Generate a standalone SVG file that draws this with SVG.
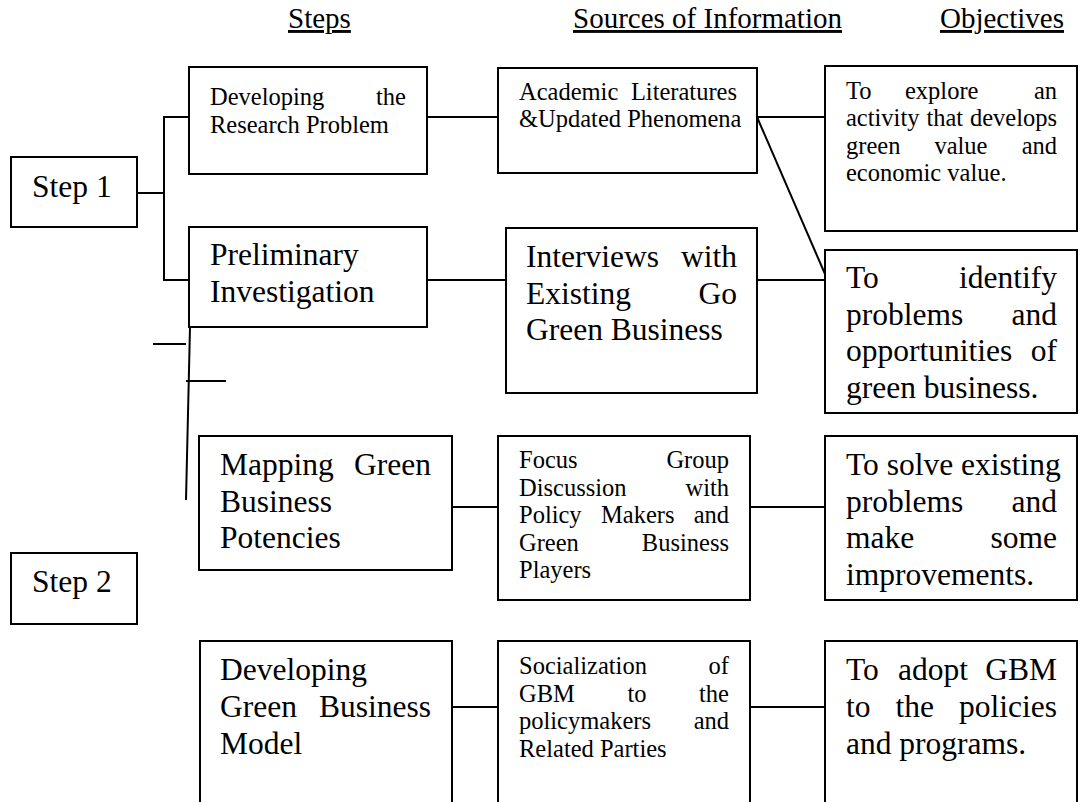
<svg xmlns="http://www.w3.org/2000/svg" width="1086" height="802" viewBox="0 0 1086 802">
<style>
  text { font-family: "Liberation Serif", "Times New Roman", serif; fill: #000; }
  .h { font-size: 29px; text-decoration: underline; }
  .b { font-size: 31.5px; }
  .s { font-size: 24.5px; }
  .e { text-anchor: end; }
  rect.box { fill: #fff; stroke: #000; stroke-width: 2; }
  #connectors line { stroke: #000; stroke-width: 2; }
</style>
<rect width="1086" height="802" fill="#fff"/>

<g id="headers">
  <text class="h" x="288" y="28">Steps</text>
  <text class="h" x="573" y="28">Sources of Information</text>
  <text class="h" x="940" y="28">Objectives</text>
</g>

<g id="connectors">
  <line x1="137" y1="193" x2="164" y2="193"/>
  <line x1="164" y1="116" x2="164" y2="281"/>
  <line x1="164" y1="117" x2="189" y2="117"/>
  <line x1="164" y1="280" x2="189" y2="280"/>
  <line x1="427" y1="117" x2="498" y2="117"/>
  <line x1="757" y1="117" x2="829" y2="117"/>
  <line x1="757" y1="117" x2="828" y2="281" stroke-width="1.6"/>
  <line x1="427" y1="280" x2="506" y2="280"/>
  <line x1="757" y1="280" x2="829" y2="280"/>
  <line x1="190" y1="327" x2="186" y2="500"/>
  <line x1="153" y1="344" x2="186" y2="344"/>
  <line x1="186" y1="381" x2="226" y2="381"/>
  <line x1="452" y1="507" x2="506" y2="507"/>
  <line x1="750" y1="507" x2="829" y2="507"/>
  <line x1="452" y1="707" x2="498" y2="707"/>
  <line x1="750" y1="707" x2="829" y2="707"/>
</g>

<g id="step1">
  <rect class="box" x="11" y="157" width="126" height="70"/>
  <text class="b" x="32" y="197">Step 1</text>
</g>

<g id="step2">
  <rect class="box" x="11" y="553" width="126" height="71"/>
  <text class="b" x="32" y="592">Step 2</text>
</g>

<g id="developing-research-problem">
  <rect class="box" x="189" y="67" width="238" height="107"/>
  <text class="s" x="210" y="105">Developing</text>
  <text class="s e" x="406" y="105">the</text>
  <text class="s" x="210" y="133">Research Problem</text>
</g>

<g id="preliminary-investigation">
  <rect class="box" x="189" y="227" width="238" height="100"/>
  <text class="b" x="210" y="265">Preliminary</text>
  <text class="b" x="210" y="302">Investigation</text>
</g>

<g id="mapping-potencies">
  <rect class="box" x="199" y="436" width="253" height="134"/>
  <text class="b" x="220" y="475">Mapping</text>
  <text class="b e" x="431" y="475">Green</text>
  <text class="b" x="220" y="512">Business</text>
  <text class="b" x="220" y="548">Potencies</text>
</g>

<g id="developing-gbm">
  <rect class="box" x="200" y="641" width="252" height="180"/>
  <text class="b" x="220" y="680">Developing</text>
  <text class="b" x="220" y="717">Green</text>
  <text class="b e" x="431" y="717">Business</text>
  <text class="b" x="220" y="754">Model</text>
</g>

<g id="academic-literatures">
  <rect class="box" x="498" y="68" width="259" height="105"/>
  <text class="s" x="519" y="100">Academic</text>
  <text class="s e" x="737" y="100">Literatures</text>
  <text class="s" x="519" y="127">&amp;Updated Phenomena</text>
</g>

<g id="interviews">
  <rect class="box" x="506" y="228" width="251" height="165"/>
  <text class="b" x="526" y="267">Interviews</text>
  <text class="b e" x="737" y="267">with</text>
  <text class="b" x="526" y="303.5">Existing</text>
  <text class="b e" x="737" y="303.5">Go</text>
  <text class="b" x="526" y="340">Green Business</text>
</g>

<g id="focus-group">
  <rect class="box" x="498" y="436" width="252" height="164"/>
  <text class="s" x="519" y="468">Focus</text>
  <text class="s e" x="729" y="468">Group</text>
  <text class="s" x="519" y="495.5">Discussion</text>
  <text class="s e" x="729" y="495.5">with</text>
  <text class="s" x="519" y="523">Policy</text>
  <text class="s" x="601" y="523">Makers</text>
  <text class="s e" x="729" y="523">and</text>
  <text class="s" x="519" y="550.5">Green</text>
  <text class="s e" x="729" y="550.5">Business</text>
  <text class="s" x="519" y="578">Players</text>
</g>

<g id="socialization">
  <rect class="box" x="498" y="641" width="252" height="180"/>
  <text class="s" x="519" y="674">Socialization</text>
  <text class="s e" x="729" y="674">of</text>
  <text class="s" x="519" y="701.5">GBM</text>
  <text class="s" x="627.4" y="701.5">to</text>
  <text class="s e" x="729" y="701.5">the</text>
  <text class="s" x="519" y="729">policymakers</text>
  <text class="s e" x="729" y="729">and</text>
  <text class="s" x="519" y="756.5">Related Parties</text>
</g>

<g id="objective-explore">
  <rect class="box" x="825" y="66" width="252" height="165"/>
  <text class="s" x="846" y="98.5">To</text>
  <text class="s" x="905" y="98.5">explore</text>
  <text class="s e" x="1057" y="98.5">an</text>
  <text class="s" x="846" y="126">activity</text>
  <text class="s" x="926.4" y="126">that</text>
  <text class="s e" x="1057" y="126">develops</text>
  <text class="s" x="846" y="153.5">green</text>
  <text class="s" x="934.4" y="153.5">value</text>
  <text class="s e" x="1057" y="153.5">and</text>
  <text class="s" x="846" y="181">economic value.</text>
</g>

<g id="objective-identify">
  <rect class="box" x="825" y="250" width="252" height="163"/>
  <text class="b" x="846" y="288">To</text>
  <text class="b e" x="1057" y="288">identify</text>
  <text class="b" x="846" y="324.5">problems</text>
  <text class="b e" x="1057" y="324.5">and</text>
  <text class="b" x="846" y="361">opportunities</text>
  <text class="b e" x="1057" y="361">of</text>
  <text class="b" x="846" y="397.5">green business.</text>
</g>

<g id="objective-solve">
  <rect class="box" x="825" y="436" width="252" height="164"/>
  <text class="b" x="846" y="475">To solve existing</text>
  <text class="b" x="846" y="511.5">problems</text>
  <text class="b e" x="1057" y="511.5">and</text>
  <text class="b" x="846" y="548">make</text>
  <text class="b e" x="1057" y="548">some</text>
  <text class="b" x="846" y="584.5">improvements.</text>
</g>

<g id="objective-adopt">
  <rect class="box" x="825" y="641" width="252" height="180"/>
  <text class="b" x="846" y="680">To</text>
  <text class="b" x="898.1" y="680">adopt</text>
  <text class="b e" x="1057" y="680">GBM</text>
  <text class="b" x="846" y="717">to</text>
  <text class="b" x="895.5" y="717">the</text>
  <text class="b e" x="1057" y="717">policies</text>
  <text class="b" x="846" y="754">and programs.</text>
</g>
</svg>
